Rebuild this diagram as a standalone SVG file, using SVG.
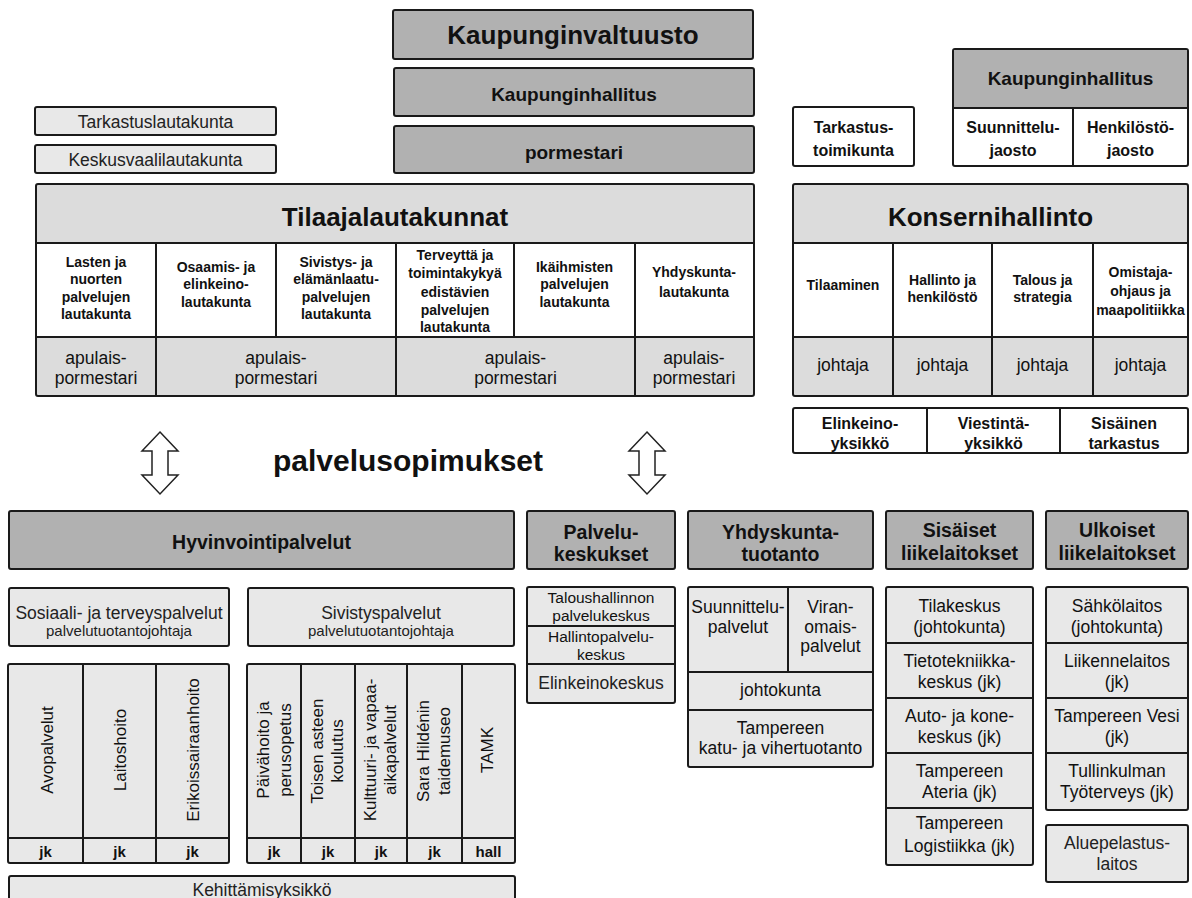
<svg xmlns="http://www.w3.org/2000/svg" width="1192" height="898" viewBox="0 0 1192 898">
<style>
text{font-family:"Liberation Sans",Arial,sans-serif;fill:#111;text-anchor:middle}
.box{stroke:#1a1a1a;stroke-width:2}
.dk{fill:#b1b1b1}
.lt{fill:#dcdcdc}
.ll{fill:#e8e8e8}
.wh{fill:#fff}
.ln{stroke:#1a1a1a;stroke-width:2;fill:none}
.h26{font-size:26px;font-weight:bold}
.h19{font-size:19.5px;font-weight:bold}
.b14{font-size:14px;font-weight:bold}
.b16{font-size:16px;font-weight:bold}
.b15{font-size:15px;font-weight:bold}
.r{font-size:17.5px;fill:#222}
.rs{font-size:15.5px;fill:#222}
.r17{font-size:17px;fill:#222}
.s15{font-size:15px;fill:#222}
.arrow{fill:#fff;stroke:#222;stroke-width:1.5;stroke-linejoin:miter}
</style>

<g id="kaupunginvaltuusto">
<rect class="box dk" x="393" y="10" width="360" height="49" rx="2"/>
<text x="573" y="44" style="font-size:26px;font-weight:bold">Kaupunginvaltuusto</text>
</g>
<g id="kaupunginhallitus">
<rect class="box dk" x="394" y="68" width="360" height="48" rx="2"/>
<text x="574" y="101" style="font-size:19px;font-weight:bold">Kaupunginhallitus</text>
</g>
<g id="pormestari">
<rect class="box dk" x="394" y="126" width="360" height="47" rx="2"/>
<text x="574" y="159" style="font-size:19px;font-weight:bold">pormestari</text>
</g>

<g id="tarkastuslautakunta">
<rect class="box ll" x="35" y="107" width="241" height="28" rx="2"/>
<text class="r" x="155.5" y="128">Tarkastuslautakunta</text>
</g>
<g id="keskusvaalilautakunta">
<rect class="box ll" x="35" y="145" width="241" height="28" rx="2"/>
<text class="r" x="155.5" y="166">Keskusvaalilautakunta</text>
</g>

<g id="tilaajalautakunnat">
<rect class="box lt" x="36" y="184" width="718" height="212" rx="2"/>
<rect class="wh" x="37" y="243" width="716" height="94"/>
<path class="ln" d="M36 243H754M36 337H754M156 243V396M276 243V337M396 243V396M514 243V337M635 243V396"/>
<text class="h26" x="395" y="226">Tilaajalautakunnat</text>
<g class="b14">
<text x="96" y="267">Lasten ja</text><text x="96" y="284">nuorten</text><text x="96" y="302">palvelujen</text><text x="96" y="319">lautakunta</text>
<text x="216" y="272">Osaamis- ja</text><text x="216" y="289">elinkeino-</text><text x="216" y="307">lautakunta</text>
<text x="336" y="267">Sivistys- ja</text><text x="336" y="284">elämänlaatu-</text><text x="336" y="302">palvelujen</text><text x="336" y="319">lautakunta</text>
<text x="455" y="260">Terveyttä ja</text><text x="455" y="278">toimintakykyä</text><text x="455" y="297">edistävien</text><text x="455" y="315">palvelujen</text><text x="455" y="332">lautakunta</text>
<text x="574.5" y="272">Ikäihmisten</text><text x="574.5" y="289">palvelujen</text><text x="574.5" y="307">lautakunta</text>
<text x="694" y="277">Yhdyskunta-</text><text x="694" y="297">lautakunta</text>
</g>
<g class="r">
<text x="96" y="364">apulais-</text><text x="96" y="384">pormestari</text>
<text x="276" y="364">apulais-</text><text x="276" y="384">pormestari</text>
<text x="515.5" y="364">apulais-</text><text x="515.5" y="384">pormestari</text>
<text x="694" y="364">apulais-</text><text x="694" y="384">pormestari</text>
</g>
</g>

<g id="tarkastustoimikunta">
<rect class="box wh" x="793" y="107" width="121" height="59" rx="2"/>
<text class="b16" x="853.5" y="133">Tarkastus-</text>
<text class="b16" x="853.5" y="156">toimikunta</text>
</g>

<g id="kaupunginhallitus-jaostot">
<rect class="box wh" x="953" y="49" width="235" height="117" rx="2"/>
<rect class="dk" x="954" y="50" width="233" height="58"/>
<path class="ln" d="M953 108H1188M1073 108V166"/>
<text x="1070.5" y="85" style="font-size:19px;font-weight:bold">Kaupunginhallitus</text>
<text class="b16" x="1013" y="133">Suunnittelu-</text><text class="b16" x="1013" y="156">jaosto</text>
<text class="b16" x="1130.5" y="133">Henkilöstö-</text><text class="b16" x="1130.5" y="156">jaosto</text>
</g>

<g id="konsernihallinto">
<rect class="box lt" x="793" y="184" width="395" height="212" rx="2"/>
<rect class="wh" x="794" y="243" width="393" height="94"/>
<path class="ln" d="M793 243H1188M793 337H1188M893 243V396M992 243V396M1093 243V396"/>
<text class="h26" x="990.5" y="226">Konsernihallinto</text>
<g class="b14">
<text x="843" y="290">Tilaaminen</text>
<text x="942.5" y="285">Hallinto ja</text><text x="942.5" y="302">henkilöstö</text>
<text x="1042.5" y="285">Talous ja</text><text x="1042.5" y="302">strategia</text>
<text x="1140.5" y="277">Omistaja-</text><text x="1140.5" y="296">ohjaus ja</text><text x="1140.5" y="315">maapolitiikka</text>
</g>
<g class="r">
<text x="843" y="371">johtaja</text><text x="942.5" y="371">johtaja</text><text x="1042.5" y="371">johtaja</text><text x="1140.5" y="371">johtaja</text>
</g>
</g>

<g id="yksikot">
<rect class="box wh" x="793" y="408" width="395" height="45" rx="2"/>
<path class="ln" d="M927 408V453M1060 408V453"/>
<g class="b16">
<text x="860" y="429">Elinkeino-</text><text x="860" y="449">yksikkö</text>
<text x="993.5" y="429">Viestintä-</text><text x="993.5" y="449">yksikkö</text>
<text x="1124" y="429">Sisäinen</text><text x="1124" y="449">tarkastus</text>
</g>
</g>

<g id="connectors">
<polygon class="arrow" points="160,432 178,451 168,451 168,475 178,475 160,494 142,475 152,475 152,451 142,451"/>
<polygon class="arrow" points="647,432 665,451 655,451 655,475 665,475 647,494 629,475 639,475 639,451 629,451"/>
</g>

<g id="palvelusopimukset">
<text x="408" y="471" style="font-size:30px;font-weight:bold">palvelusopimukset</text>
</g>

<g id="hyvinvointipalvelut">
<rect class="box dk" x="9" y="511" width="505" height="58" rx="2"/>
<text class="h19" x="261.5" y="549">Hyvinvointipalvelut</text>
</g>
<g id="sosiaali-terveyspalvelut">
<rect class="box ll" x="9" y="588" width="220" height="58" rx="2"/>
<text class="r" x="119" y="619">Sosiaali- ja terveyspalvelut</text>
<text class="s15" x="119" y="636">palvelutuotantojohtaja</text>
</g>
<g id="sivistyspalvelut">
<rect class="box ll" x="248" y="588" width="266" height="58" rx="2"/>
<text class="r" x="381" y="619">Sivistyspalvelut</text>
<text class="s15" x="381" y="636">palvelutuotantojohtaja</text>
</g>

<g id="sote-yksikot">
<rect class="box ll" x="8" y="664" width="221" height="199" rx="2"/>
<path class="ln" d="M8 838H229M83 664V863M156 664V863"/>
<g class="r17">
<text x="53" y="750" transform="rotate(-90 53 750)">Avopalvelut</text>
<text x="126" y="750" transform="rotate(-90 126 750)">Laitoshoito</text>
<text x="199" y="750" transform="rotate(-90 199 750)">Erikoissairaanhoito</text>
</g>
<g class="b15">
<text x="45.5" y="857">jk</text><text x="119.5" y="857">jk</text><text x="192.5" y="857">jk</text>
</g>
</g>

<g id="sivistys-yksikot">
<rect class="box ll" x="247" y="664" width="268" height="199" rx="2"/>
<path class="ln" d="M247 838H515M301 664V863M355 664V863M407 664V863M462 664V863"/>
<g class="r17">
<text x="269" y="750" transform="rotate(-90 269 750)">Päivähoito ja</text>
<text x="291" y="750" transform="rotate(-90 291 750)">perusopetus</text>
<text x="323" y="751" transform="rotate(-90 323 751)">Toisen asteen</text>
<text x="343" y="751" transform="rotate(-90 343 751)">koulutus</text>
<text x="376" y="750" transform="rotate(-90 376 750)">Kulttuuri- ja vapaa-</text>
<text x="396" y="750" transform="rotate(-90 396 750)">aikapalvelut</text>
<text x="429" y="751" transform="rotate(-90 429 751)">Sara Hildénin</text>
<text x="450" y="751" transform="rotate(-90 450 751)">taidemuseo</text>
<text x="493" y="750" transform="rotate(-90 493 750)">TAMK</text>
</g>
<g class="b15">
<text x="274" y="857">jk</text><text x="328" y="857">jk</text><text x="381" y="857">jk</text><text x="434.5" y="857">jk</text><text x="488.5" y="857">hall</text>
</g>
</g>

<g id="kehittamisyksikko">
<rect class="box ll" x="9" y="876" width="506" height="30" rx="2"/>
<text class="r" x="262" y="896">Kehittämisyksikkö</text>
</g>

<g id="palvelukeskukset">
<rect class="box dk" x="527" y="511" width="148" height="58" rx="2"/>
<text class="h19" x="601" y="539">Palvelu-</text><text class="h19" x="601" y="561">keskukset</text>
</g>
<g id="palvelukeskukset-lista">
<rect class="box ll" x="527" y="587" width="148" height="116" rx="2"/>
<path class="ln" d="M527 626H675M527 664H675"/>
<g class="rs">
<text x="601" y="603">Taloushallinnon</text><text x="601" y="620.5">palvelukeskus</text>
<text x="601" y="642">Hallintopalvelu-</text><text x="601" y="659.5">keskus</text>
</g>
<text class="r" x="601" y="689">Elinkeinokeskus</text>
</g>

<g id="yhdyskuntatuotanto">
<rect class="box dk" x="688" y="511" width="185" height="58" rx="2"/>
<text class="h19" x="780.5" y="539">Yhdyskunta-</text><text class="h19" x="780.5" y="561">tuotanto</text>
</g>
<g id="yhdyskuntatuotanto-lista">
<rect class="box ll" x="688" y="587" width="185" height="180" rx="2"/>
<path class="ln" d="M788 587V672M688 672H873M688 710H873"/>
<g class="r">
<text x="738" y="613">Suunnittelu-</text><text x="738" y="633">palvelut</text>
<text x="830.5" y="613">Viran-</text><text x="830.5" y="633">omais-</text><text x="830.5" y="652">palvelut</text>
<text x="780.5" y="696">johtokunta</text>
<text x="780.5" y="734">Tampereen</text><text x="780.5" y="754">katu- ja vihertuotanto</text>
</g>
</g>

<g id="sisaiset-liikelaitokset">
<rect class="box dk" x="886" y="511" width="147" height="58" rx="2"/>
<text class="h19" x="959.5" y="537">Sisäiset</text><text class="h19" x="959.5" y="560">liikelaitokset</text>
</g>
<g id="sisaiset-lista">
<rect class="box ll" x="886" y="587" width="147" height="278" rx="2"/>
<path class="ln" d="M886 643H1033M886 698H1033M886 753H1033M886 808H1033"/>
<g class="r">
<text x="959.5" y="612">Tilakeskus</text><text x="959.5" y="633">(johtokunta)</text>
<text x="959.5" y="667">Tietotekniikka-</text><text x="959.5" y="688">keskus (jk)</text>
<text x="959.5" y="722">Auto- ja kone-</text><text x="959.5" y="743">keskus (jk)</text>
<text x="959.5" y="777">Tampereen</text><text x="959.5" y="798">Ateria (jk)</text>
<text x="959.5" y="829">Tampereen</text><text x="959.5" y="852">Logistiikka (jk)</text>
</g>
</g>

<g id="ulkoiset-liikelaitokset">
<rect class="box dk" x="1046" y="511" width="142" height="58" rx="2"/>
<text class="h19" x="1117" y="537">Ulkoiset</text><text class="h19" x="1117" y="560">liikelaitokset</text>
</g>
<g id="ulkoiset-lista">
<rect class="box ll" x="1046" y="587" width="142" height="223" rx="2"/>
<path class="ln" d="M1046 643H1188M1046 698H1188M1046 753H1188"/>
<g class="r">
<text x="1117" y="612">Sähkölaitos</text><text x="1117" y="633">(johtokunta)</text>
<text x="1117" y="667">Liikennelaitos</text><text x="1117" y="688">(jk)</text>
<text x="1117" y="722">Tampereen Vesi</text><text x="1117" y="743">(jk)</text>
<text x="1117" y="777">Tullinkulman</text><text x="1117" y="798">Työterveys (jk)</text>
</g>
</g>
<g id="aluepelastuslaitos">
<rect class="box ll" x="1046" y="825" width="142" height="57" rx="2"/>
<text class="r" x="1117" y="849">Aluepelastus-</text><text class="r" x="1117" y="870">laitos</text>
</g>
</svg>
